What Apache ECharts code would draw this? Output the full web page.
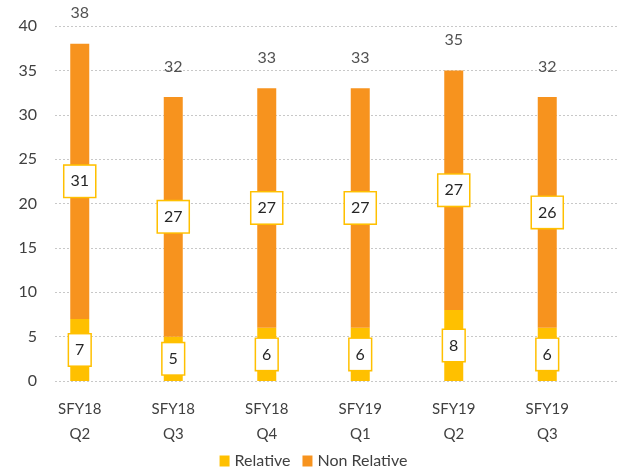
<!DOCTYPE html>
<html><head><meta charset="utf-8">
<script src="https://cdn.jsdelivr.net/npm/echarts@6/dist/echarts.min.js"></script>
<style>html,body{margin:0;padding:0;background:#fff}#c{width:627px;height:476px}</style>
</head><body><div id="c"></div>
<script>
var categories = ['SFY18\nQ2','SFY18\nQ3','SFY18\nQ4','SFY19\nQ1','SFY19\nQ2','SFY19\nQ3'];
var relative = [7,5,6,6,8,6];
var nonRelative = [31,27,27,27,27,26];
var totals = [38,32,33,33,35,32];
var yTicks = [0,5,10,15,20,25,30,35,40];

var font = 'Lato';
var boxLabel = {
  show: true, position: 'inside', color: '#262626', fontSize: 16, fontFamily: font,
  backgroundColor: '#fff', borderColor: '#FFC000', borderWidth: 1.5,
  padding: [8,6,7,6]
};
var chart = echarts.init(document.getElementById('c'));
chart.setOption({
  animation: false,
  grid: [
    {left: 33, right: 33, top: 26, bottom: 95},
    {left: 55, right: 9, top: 26, bottom: 95}
  ],
  legend: {
    bottom: 2, left: 'center', itemWidth: 10, itemHeight: 11, itemGap: 12,
    icon: 'rect',
    textStyle: {fontSize: 16, fontFamily: font, color: '#404040'},
    data: ['Relative','Non Relative']
  },
  xAxis: [
    {type: 'category', gridIndex: 0, data: categories,
     axisLine: {show: false}, axisTick: {show: false},
     axisLabel: {fontSize: 15, fontFamily: font, color: '#404040', lineHeight: 25, margin: 16}},
    {type: 'category', gridIndex: 1, data: categories, show: false}
  ],
  yAxis: [
    {type: 'value', gridIndex: 0, min: 0, max: 40, interval: 5, show: false, splitLine: {show: false}},
    {type: 'value', gridIndex: 1, min: 0, max: 40, interval: 5,
     axisLine: {show: false}, axisTick: {show: false},
     axisLabel: {fontSize: 16, fontFamily: font, color: '#404040', margin: 18},
     splitLine: {lineStyle: {color: '#c8c8c8', type: [2,2], width: 1}}}
  ],
  series: [
    {name: 'Relative', type: 'bar', stack: 's', xAxisIndex: 0, yAxisIndex: 0,
     data: relative, barWidth: 19, itemStyle: {color: '#FFC000'}, label: boxLabel},
    {name: 'Non Relative', type: 'bar', stack: 's', xAxisIndex: 0, yAxisIndex: 0,
     data: nonRelative, barWidth: 19, itemStyle: {color: '#F7931E'}, label: boxLabel},
    {name: 'Total', type: 'scatter', xAxisIndex: 0, yAxisIndex: 0, data: totals,
     symbolSize: 1, itemStyle: {color: 'rgba(0,0,0,0)'}, silent: true, z: 10,
     label: {show: true, position: 'top', distance: 22, fontSize: 16, fontFamily: font, color: '#262626'}}
  ]
});
</script></body></html>
